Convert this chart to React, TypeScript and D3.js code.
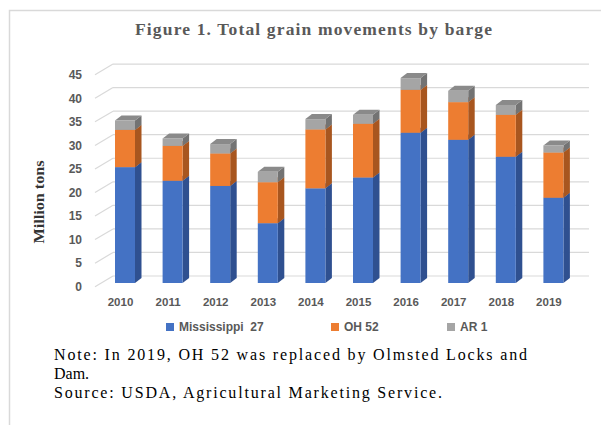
import React from "react";
import * as d3 from "d3";

const years = ["2010", "2011", "2012", "2013", "2014", "2015", "2016", "2017", "2018", "2019"];
const mississippi27 = [24.6, 21.7, 20.6, 12.7, 20.1, 22.4, 31.9, 30.4, 26.8, 18.1];
const oh52 = [7.9, 7.4, 6.9, 8.7, 12.5, 11.4, 9.1, 8.0, 8.9, 9.6];
const ar1 = [2.0, 1.6, 2.0, 2.2, 2.2, 1.9, 2.5, 2.4, 2.1, 1.5];
const yTicks = [0, 5, 10, 15, 20, 25, 30, 35, 40, 45];
const seriesNames = ["Mississippi  27", "OH 52", "AR 1"];

const palette = [
  { front: "#4472c4", side: "#2f5090", top: "#3a62a8" },
  { front: "#ed7d31", side: "#a8561f", top: "#c96a28" },
  { front: "#a5a5a5", side: "#737373", top: "#8a8a8a" },
];

export default function App() {
  const W = 601, H = 425;
  const y = d3.scaleLinear().domain([0, 45]).range([283, 283 - 45 * 4.71]);
  const x = d3.scalePoint<string>().domain(years).range([125, 553.4]);
  const bw = 20, dx = 6.5, dy = -5;
  const backShift = -7;
  const stackData = years.map((yr, i) => ({ yr, vals: [mississippi27[i], oh52[i], ar1[i]] }));
  const stack = d3.stack<any>().keys(["0", "1", "2"]).value((d: any, k: string) => d.vals[+k]);
  const stacked = stack(stackData);

  return (
    <svg width={W} height={H} style={{ position: "absolute", left: 0, top: 0, background: "#fff" }}>
      <rect x={9.5} y={10.5} width={700} height={500} fill="none" stroke="#d9d9d9" strokeWidth={1.5} />
      <text x={135} y={35} textLength={357} lengthAdjust="spacing"
        style={{ fontFamily: "'Liberation Serif', serif", fontWeight: 700, fontSize: 17.5, fill: "#595959" }}>
        Figure 1. Total grain movements by barge
      </text>
      <text transform="translate(44,202) rotate(-90)" textAnchor="middle" textLength={83} lengthAdjust="spacingAndGlyphs"
        style={{ fontFamily: "'Liberation Serif', serif", fontWeight: 700, fontSize: 15, fill: "#333" }}>
        Million tons
      </text>
      {yTicks.map((t) => {
        const yb = y(t) + backShift;
        return (
          <g key={t}>
            <line x1={95} y1={yb + 10.7} x2={113} y2={yb} stroke="#d9d9d9" strokeWidth={1.2} />
            <line x1={113} y1={yb} x2={589} y2={yb} stroke="#d9d9d9" strokeWidth={1.2} />
            <text x={82} y={yb + 10.7} dy="0.35em" textAnchor="end"
              style={{ fontFamily: "'Liberation Sans', Arial, sans-serif", fontWeight: 700, fontSize: 12, fill: "#595959" }}>
              {t}
            </text>
          </g>
        );
      })}
      {years.map((yr, i) => {
        const cx = x(yr)!;
        const x0 = cx - bw / 2, x1 = cx + bw / 2;
        return (
          <g key={yr}>
            {stacked.map((s, k) => {
              const yb = y(s[i][0]), yt = y(s[i][1]);
              const c = palette[k];
              return (
                <g key={k}>
                  <polygon points={`${x1},${yb} ${x1 + dx},${yb + dy} ${x1 + dx},${yt + dy} ${x1},${yt}`} fill={c.side} />
                  <polygon points={`${x0},${yt} ${x1},${yt} ${x1 + dx},${yt + dy} ${x0 + dx},${yt + dy}`} fill={c.top} />
                  <rect x={x0} y={yt} width={bw} height={yb - yt} fill={c.front} />
                </g>
              );
            })}
            <text x={cx - 4.5} y={302} dy="0.35em" textAnchor="middle"
              style={{ fontFamily: "'Liberation Sans', Arial, sans-serif", fontWeight: 700, fontSize: 11.5, fill: "#595959" }}>
              {yr}
            </text>
          </g>
        );
      })}
      {seriesNames.map((n, k) => {
        const lx = [166, 331, 447][k];
        return (
          <g key={n}>
            <rect x={lx} y={323} width={8} height={8} fill={palette[k].front} />
            <text x={lx + 13} y={327} dy="0.35em" xmlSpace="preserve"
              style={{ fontFamily: "'Liberation Sans', Arial, sans-serif", fontWeight: 700, fontSize: 12, fill: "#595959", whiteSpace: "pre" }}>
              {n}
            </text>
          </g>
        );
      })}
      <g style={{ fontFamily: "'Liberation Serif', 'Times New Roman', serif", fontSize: 16, fill: "#000" }}>
        <text x={54} y={360} textLength={473} lengthAdjust="spacing">Note: In 2019, OH 52 was replaced by Olmsted Locks and</text>
        <text x={54} y={379}>Dam.</text>
        <text x={54} y={398} textLength={388} lengthAdjust="spacing">Source: USDA, Agricultural Marketing Service.</text>
      </g>
    </svg>
  );
}
